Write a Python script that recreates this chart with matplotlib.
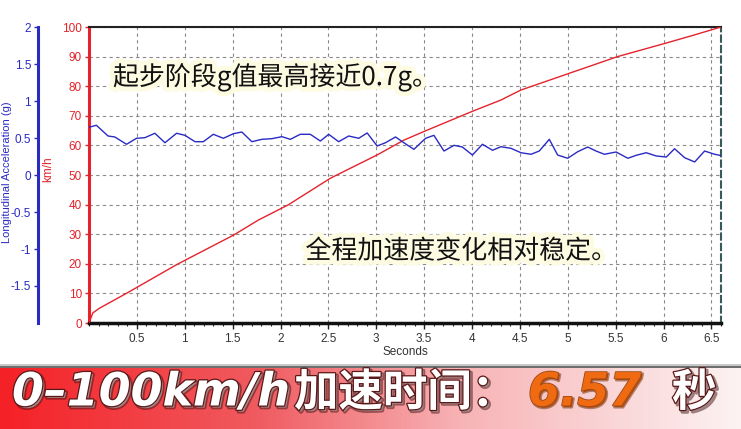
import numpy as np
import matplotlib
matplotlib.use("Agg")
import matplotlib.pyplot as plt
import matplotlib.patheffects as pe
from matplotlib.ticker import MultipleLocator
from matplotlib.colors import LinearSegmentedColormap

# ---------------- data ----------------
speed_time = [0.0, 0.04, 0.11, 0.39, 0.92, 1.51, 1.77, 2.08, 2.52, 3.01, 3.29, 3.52, 4.01, 4.30,
              4.51, 4.93, 5.52, 6.03, 6.32, 6.6]
speed_kmh = [0, 3.4, 5.0, 10.0, 19.8, 29.7, 34.8, 39.9, 48.9, 56.8, 61.8, 65.0, 71.6, 75.3,
             78.7, 83.4, 90.0, 94.6, 97.3, 100]

acc_time = [0.0, 0.077, 0.199, 0.269, 0.392, 0.496, 0.583, 0.688, 0.793, 0.915, 1.002, 1.107, 1.194,
            1.298, 1.403, 1.508, 1.596, 1.701, 1.805, 1.910, 2.015, 2.102, 2.206, 2.311, 2.416, 2.503,
            2.607, 2.712, 2.817, 2.905, 3.009, 3.096, 3.201, 3.288, 3.393, 3.515, 3.602, 3.707, 3.812,
            3.899, 4.004, 4.109, 4.214, 4.301, 4.406, 4.511, 4.616, 4.702, 4.807, 4.894, 4.999, 5.104,
            5.208, 5.295, 5.382, 5.505, 5.627, 5.714, 5.819, 5.924, 6.029, 6.115, 6.220, 6.325, 6.429,
            6.534, 6.622]
acc_g = [0.645, 0.672, 0.527, 0.514, 0.415, 0.496, 0.504, 0.564, 0.436, 0.564, 0.536, 0.450, 0.450,
         0.550, 0.496, 0.558, 0.581, 0.450, 0.482, 0.491, 0.518, 0.482, 0.550, 0.550, 0.459, 0.550,
         0.450, 0.527, 0.496, 0.568, 0.392, 0.436, 0.514, 0.436, 0.347, 0.496, 0.536, 0.324, 0.401,
         0.378, 0.270, 0.415, 0.334, 0.382, 0.361, 0.301, 0.280, 0.324, 0.482, 0.270, 0.226, 0.315,
         0.378, 0.324, 0.280, 0.311, 0.226, 0.266, 0.301, 0.257, 0.243, 0.355, 0.234, 0.176, 0.324,
         0.280, 0.257]

speed_ticks = list(range(0, 101, 10))
acc_ticks = [-1.5, -1, -0.5, 0, 0.5, 1, 1.5, 2]
acc_tick_labels = ["-1.5", "-1", "-0.5", "0", "0.5", "1", "1.5", "2"]
time_ticks = [0.5, 1, 1.5, 2, 2.5, 3, 3.5, 4, 4.5, 5, 5.5, 6, 6.5]
time_tick_labels = ["0.5", "1", "1.5", "2", "2.5", "3", "3.5", "4", "4.5", "5", "5.5", "6", "6.5"]

note_top = "起步阶段g值最高接近0.7g。"
note_mid = "全程加速度变化相对稳定。"
banner_latin = "0–100km/h"
banner_cjk = "加速时间："
banner_value = "6.57"
banner_unit = "秒"

# ---------------- figure ----------------
W, H = 741, 429
fig = plt.figure(figsize=(W / 100, H / 100), dpi=100)
fig.patch.set_facecolor("white")

RED = "#e4232c"
BLUE = "#2a2ac4"
AX_FONT = "Liberation Sans"

x0, x1 = 89, 721
ytop, ybot = 27, 323
ax = fig.add_axes([x0 / W, 1 - ybot / H, (x1 - x0) / W, (ybot - ytop) / H])
ax.set_xlim(0, 6.6)
ax.set_ylim(0, 100)

ax.set_xticks(time_ticks)
ax.set_xticklabels(time_tick_labels, fontfamily=AX_FONT, fontsize=8.5, color="#333333")
ax.xaxis.set_minor_locator(MultipleLocator(0.1))
ax.set_yticks(speed_ticks)
ax.set_yticklabels([str(v) for v in speed_ticks], fontfamily=AX_FONT, fontsize=8.5, color=RED)
ax.grid(True, which="major", color="#8a8a8a", linestyle=(0, (3, 3)), linewidth=0.8)
ax.tick_params(axis="x", which="major", length=4, width=1, color="#222222", pad=3)
ax.tick_params(axis="x", which="minor", length=2.5, width=0.8, color="#222222")
ax.tick_params(axis="y", which="major", length=3, width=1, color=RED, pad=2)

ax.spines["left"].set_color(RED)
ax.spines["left"].set_linewidth(2.2)
ax.spines["bottom"].set_color("#111111")
ax.spines["bottom"].set_linewidth(2.5)
ax.spines["top"].set_color("#222222")
ax.spines["top"].set_linewidth(1.5)
ax.spines["right"].set_color("#3a5a5a")
ax.spines["right"].set_linewidth(1.5)
ax.spines["right"].set_linestyle((0, (3, 2)))

ax.set_xlabel("Seconds", fontfamily=AX_FONT, fontsize=8.5, color="#333333", labelpad=1)
ax.set_ylabel("km/h", fontfamily=AX_FONT, fontsize=8.5, color=RED)
ax.yaxis.label.set_va("center")
ax.yaxis.set_label_coords(-(x0 - 48) / (x1 - x0), 0.52)

ax.plot(speed_time, speed_kmh, color=RED, linewidth=1.0, zorder=4)

# acceleration axis
ax2 = ax.twinx()
ax2.set_ylim(-2, 2)
ax2.yaxis.set_label_position("left")
ax2.yaxis.tick_left()
ax2.spines["left"].set_position(("outward", 51 * 72 / 100))
ax2.spines["left"].set_visible(True)
ax2.spines["left"].set_color(BLUE)
ax2.spines["left"].set_linewidth(2.2)
for s in ["right", "top", "bottom"]:
    ax2.spines[s].set_visible(False)
ax2.set_yticks(acc_ticks)
ax2.set_yticklabels(acc_tick_labels, fontfamily=AX_FONT, fontsize=8.5, color=BLUE)
ax2.tick_params(axis="y", length=3, width=1, color=BLUE, pad=2)
ax2.set_ylabel("Longitudinal Acceleration (g)", fontfamily=AX_FONT, fontsize=8, color=BLUE)
ax2.yaxis.label.set_va("center")
ax2.yaxis.set_label_coords(-(x0 - 7) / (x1 - x0), 0.51)
ax2.plot(acc_time, acc_g, color=BLUE, linewidth=1.0, zorder=3)

# annotations
glow = [pe.withStroke(linewidth=7, foreground="#fdfbe2")]
ax.text(0.25, 83.1, note_top, fontfamily=["Noto Sans CJK SC", "DejaVu Sans"], fontsize=18.7,
        color="#111111", ha="left", va="center", path_effects=glow, zorder=6)
ax.text(2.26, 24.3, note_mid, fontfamily=["Noto Sans CJK SC", "DejaVu Sans"], fontsize=18.7,
        color="#111111", ha="left", va="center", path_effects=glow, zorder=6)

# ---------------- banner ----------------
bb = fig.add_axes([0, 0, 1, 61 / H])
cmap = LinearSegmentedColormap.from_list(
    "banner", [(0.0, (0.96, 0.13, 0.15)), (0.35, (0.94, 0.36, 0.38)),
               (0.62, (0.97, 0.70, 0.71)), (1.0, (0.99, 0.95, 0.95))])
grad = np.linspace(0, 1, 400).reshape(1, -1)
bb.imshow(grad, aspect="auto", cmap=cmap, extent=[0, 1, 0, 1])
bb.set_xlim(0, 1)
bb.set_ylim(0, 1)
bb.axis("off")

fig.add_artist(plt.Rectangle((0, 61 / H), 1, 2 / H, transform=fig.transFigure,
                             facecolor="#6e6e6e", edgecolor="none"))
fig.add_artist(plt.Rectangle((0, 63 / H), 1, 2 / H, transform=fig.transFigure,
                             facecolor="#c8c8c8", edgecolor="none"))

banner_pe = [pe.Stroke(linewidth=2.5, foreground="#40101080", offset=(1.5, -1.5)),
             pe.Stroke(linewidth=1.8, foreground="#5a1818"), pe.Normal()]
ty = 1 - 393 / H
fig.text(12 / W, ty, banner_latin, fontfamily="DejaVu Sans", fontsize=33, fontweight="bold",
         fontstyle="italic", color="white", ha="left", va="center", path_effects=banner_pe)
fig.text(294 / W, ty, banner_cjk, fontfamily="Noto Sans CJK SC", fontsize=32, fontweight="black",
         color="white", ha="left", va="center", path_effects=banner_pe)
fig.text(528 / W, ty, banner_value, fontfamily="DejaVu Sans", fontsize=33, fontweight="bold",
         fontstyle="italic", color="#f06a12", ha="left", va="center",
         path_effects=[pe.Stroke(linewidth=2, foreground="#6a2a0880", offset=(1.2, -1.2)),
                       pe.Stroke(linewidth=1.2, foreground="#9a4a18"), pe.Normal()])
fig.text(672 / W, ty, banner_unit, fontfamily="Noto Sans CJK SC", fontsize=32, fontweight="black",
         color="white", ha="left", va="center", path_effects=banner_pe)

fig.savefig("out.png", dpi=100)
